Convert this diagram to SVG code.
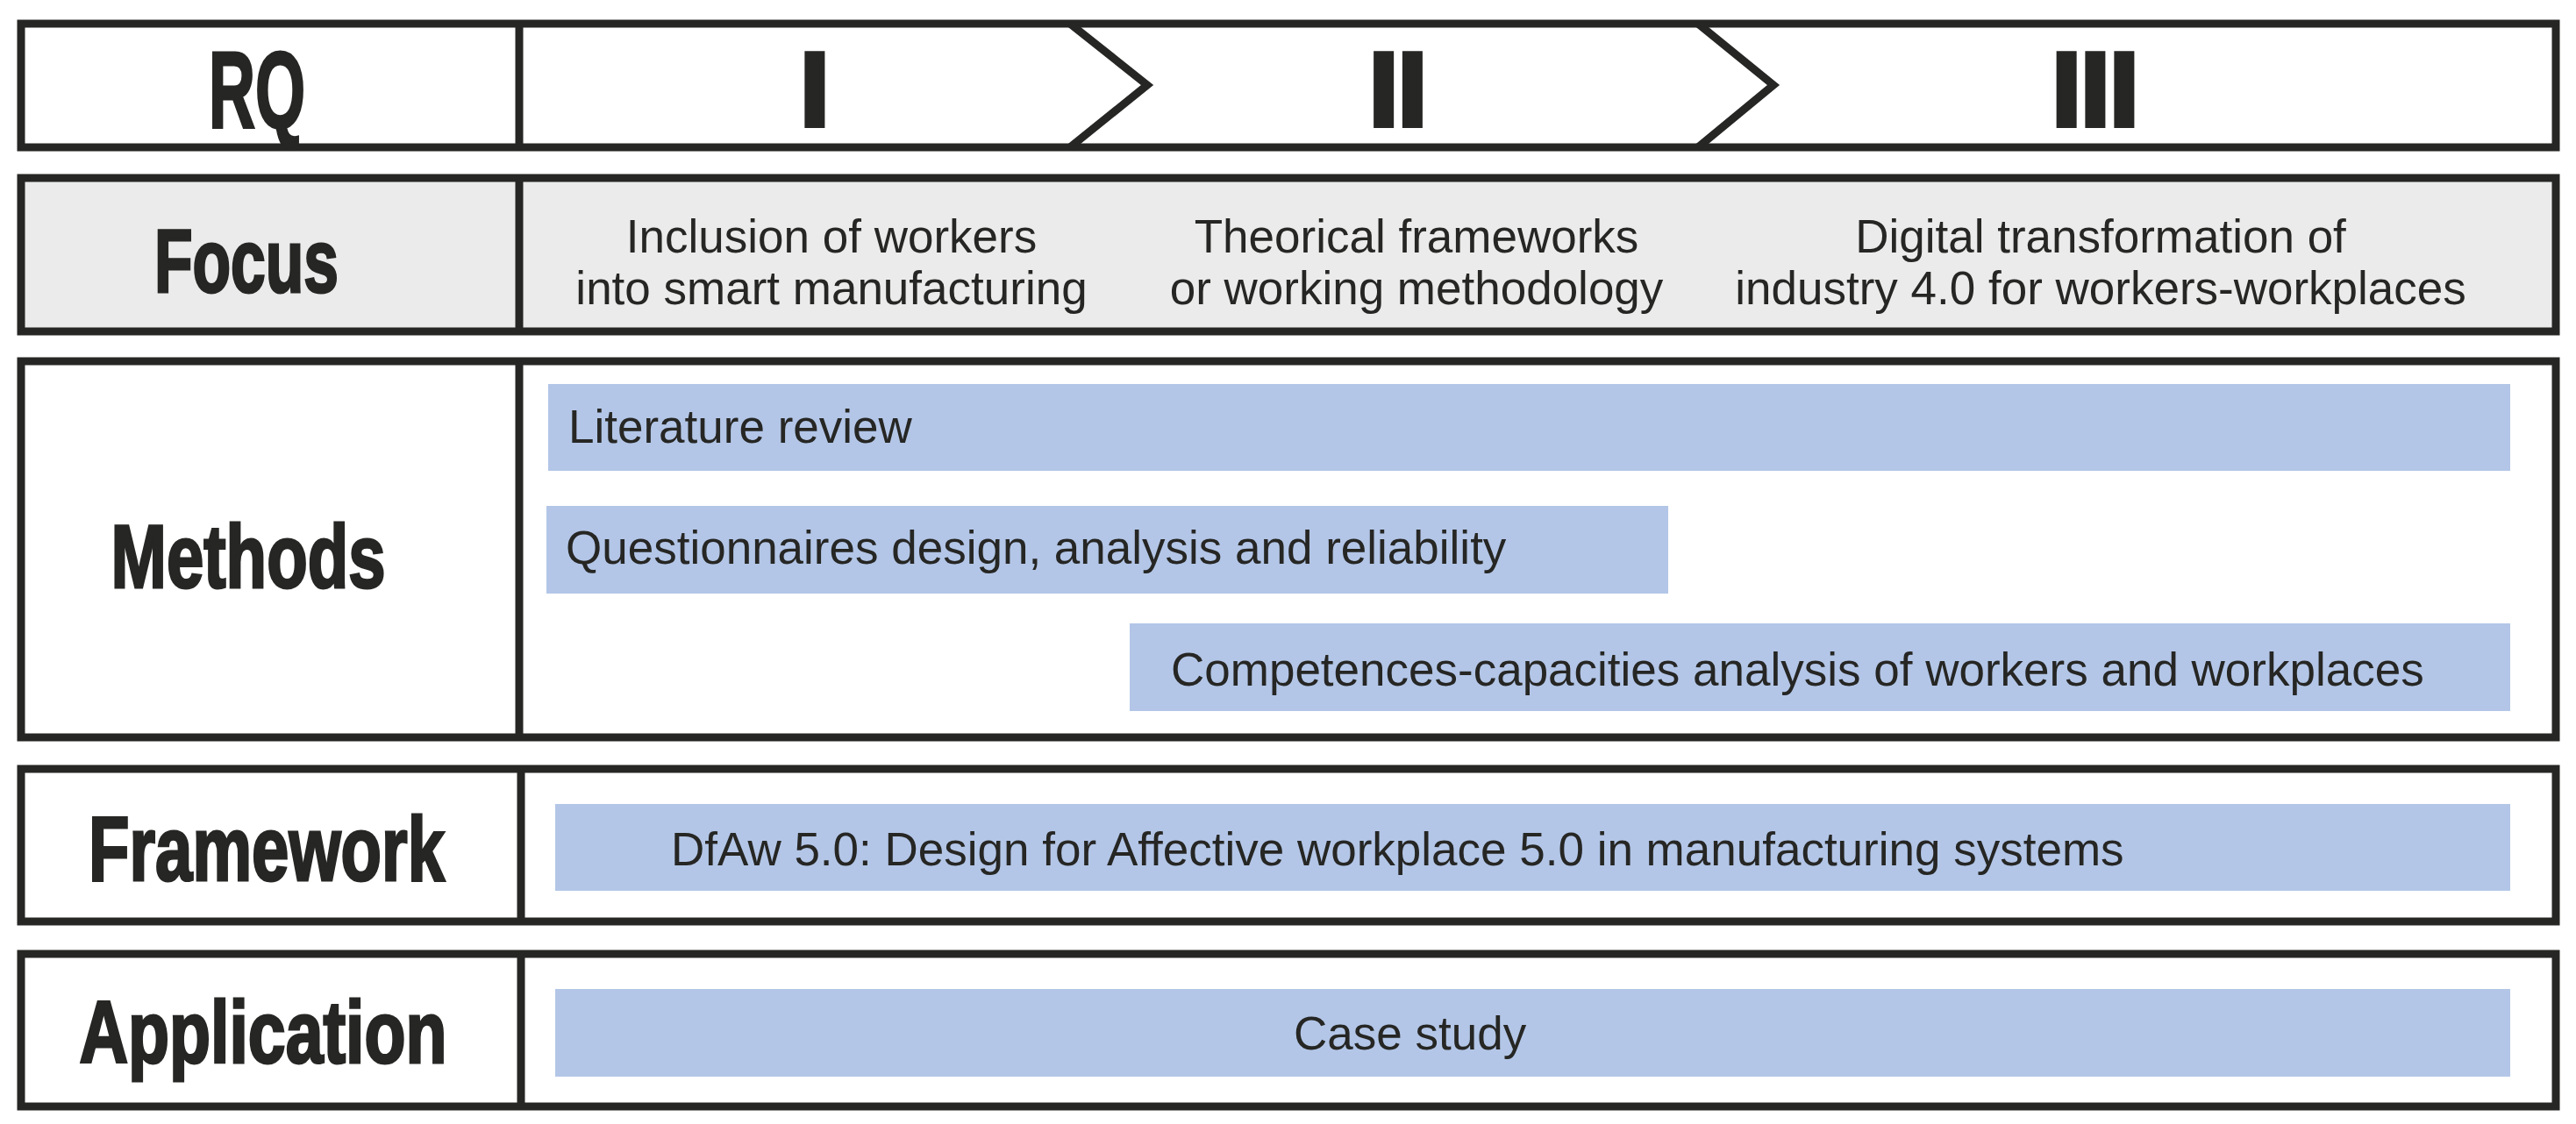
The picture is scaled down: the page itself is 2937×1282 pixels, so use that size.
<svg xmlns="http://www.w3.org/2000/svg" width="2937" height="1282" viewBox="0 0 2937 1282">
<style>
.frame{fill:#fff;stroke:#262624;stroke-width:9}
.grey{fill:#eaebea}
.div{stroke:#262624;stroke-width:9}
.bar{fill:#b3c6e7}
.hd{font-family:"Liberation Sans",Arial,sans-serif;font-weight:bold;fill:#262624;text-anchor:middle;stroke:#262624;stroke-width:3}
.rn{font-family:"Liberation Sans",Arial,sans-serif;font-weight:bold;font-size:118px;fill:#262624;stroke:#262624;stroke-width:6;text-anchor:middle}
.tx{font-family:"Liberation Sans",Arial,sans-serif;font-size:53px;fill:#262624}
.c{text-anchor:middle}
.chev{fill:none;stroke:#262624;stroke-width:9}
</style>
<rect width="2937" height="1282" fill="#fff"/>
<g id="row-rq">
<rect class="frame" x="24" y="27" width="2890" height="141"/>
<line class="div" x1="592" y1="27" x2="592" y2="168"/>
<text class="hd" x="293" y="146" font-size="124" textLength="110" lengthAdjust="spacingAndGlyphs">RQ</text>
<text class="rn" x="929" y="143">I</text>
<text class="rn" x="1594" y="143">II</text>
<text class="rn" x="2389" y="143">III</text>
</g>
<g id="connectors">
<polyline class="chev" points="1220,27 1308,97 1220,168"/>
<polyline class="chev" points="1936,27 2022,97 1936,168"/>
</g>
<g id="row-focus">
<rect class="frame grey" x="24" y="203" width="2890" height="175" style="fill:#eaebea"/>
<line class="div" x1="592" y1="203" x2="592" y2="378"/>
<text class="hd" x="281" y="333" font-size="102" textLength="210" lengthAdjust="spacingAndGlyphs">Focus</text>
<text class="tx c" x="948" y="288">Inclusion of workers</text>
<text class="tx c" x="948" y="347">into smart manufacturing</text>
<text class="tx c" x="1615" y="288">Theorical frameworks</text>
<text class="tx c" x="1615" y="347">or working methodology</text>
<text class="tx c" x="2395" y="288">Digital transformation of</text>
<text class="tx c" x="2395" y="347">industry 4.0 for workers-workplaces</text>
</g>
<g id="row-methods">
<rect class="frame" x="24" y="412" width="2890" height="429"/>
<line class="div" x1="592" y1="412" x2="592" y2="841"/>
<text class="hd" x="283" y="670" font-size="102" textLength="313" lengthAdjust="spacingAndGlyphs">Methods</text>
<rect class="bar" x="625" y="438" width="2237" height="99"/>
<text class="tx" x="648" y="505">Literature review</text>
<rect class="bar" x="623" y="577" width="1279" height="100"/>
<text class="tx" x="645" y="643">Questionnaires design, analysis and reliability</text>
<rect class="bar" x="1288" y="711" width="1574" height="100"/>
<text class="tx" x="1335" y="782">Competences-capacities analysis of workers and workplaces</text>
</g>
<g id="row-framework">
<rect class="frame" x="24" y="877" width="2890" height="174"/>
<line class="div" x1="594" y1="877" x2="594" y2="1051"/>
<text class="hd" x="304" y="1004" font-size="103" textLength="406" lengthAdjust="spacingAndGlyphs">Framework</text>
<rect class="bar" x="633" y="917" width="2229" height="99"/>
<text class="tx" x="765" y="987">DfAw 5.0: Design for Affective workplace 5.0 in manufacturing systems</text>
</g>
<g id="row-application">
<rect class="frame" x="24" y="1088" width="2890" height="174"/>
<line class="div" x1="594" y1="1088" x2="594" y2="1262"/>
<text class="hd" x="300" y="1212" font-size="100" textLength="419" lengthAdjust="spacingAndGlyphs">Application</text>
<rect class="bar" x="633" y="1128" width="2229" height="100"/>
<text class="tx" x="1475" y="1197">Case study</text>
</g>
</svg>
